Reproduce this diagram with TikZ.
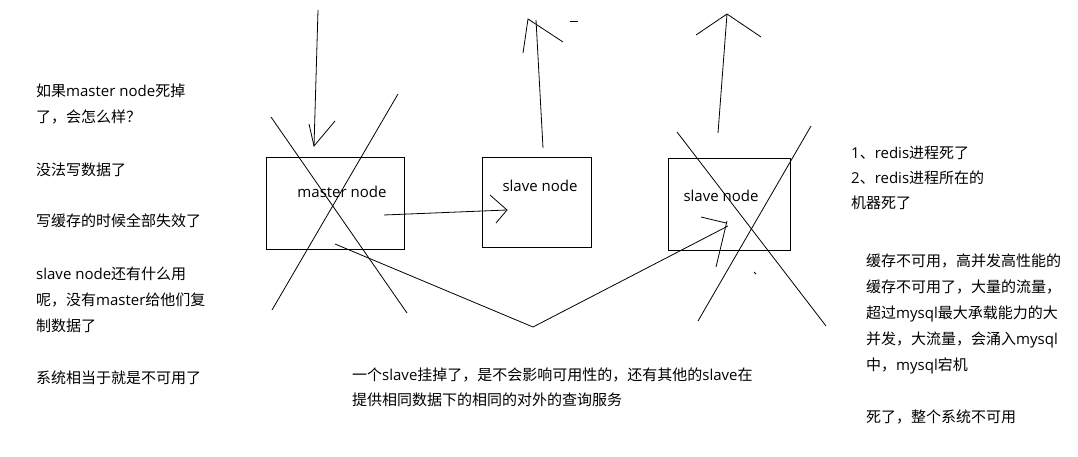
\documentclass[tikz,border=0pt]{standalone}
\usepackage{fontspec}
\setmainfont{Noto Sans CJK SC}
\newfontfamily\latinfont{Open Sans}
\newcommand{\lat}[1]{{\latinfont #1}}
\usetikzlibrary{positioning}

\tikzset{
  nodebox/.style={draw,line width=1pt,inner sep=0pt},
  pen/.style={line width=0.8pt},
  boxtext/.style={inner sep=0pt,font=\fontsize{15}{18}\latinfont},
  note/.style={anchor=base west,align=left,inner sep=0pt,font=\fontsize{15}{26}\selectfont},
}

\begin{document}
\begin{tikzpicture}[x=1pt,y=-1pt]
\useasboundingbox (0,0) rectangle (1078,457);

% the three redis nodes
\node[nodebox,minimum width=138pt,minimum height=91pt] (master) at (335,203.5) {};
\node[boxtext] (mastertext) at (342,192) {master node};
\node[nodebox,minimum width=109pt,minimum height=89pt] (slaveA) at (536.5,202.5) {};
\node[boxtext] (slaveAtext) at (540,186) {slave node};
\node[nodebox,minimum width=122pt,minimum height=91pt] (slaveB) at (729,204.5) {};
\node[boxtext] (slaveBtext) at (721,196) {slave node};

% write traffic into the master
\coordinate (writetop) at (318,10);
\coordinate (writetip) at (314,146);
\draw[pen] (writetop) -- (writetip);
\draw[pen] ([shift={(-5,-22)}]writetip) -- (writetip) -- ([shift={(21,-25)}]writetip);

% replication master -> slave
\coordinate (repstart) at (384,215);
\coordinate (reptip) at (507,210);
\draw[pen] (repstart) -- (reptip);
\draw[pen] ([shift={(-17,-15)}]reptip) -- (reptip) -- ([shift={(-11,13)}]reptip);

% reads out of the slaves
\coordinate (readAfoot) at (543,148);
\coordinate (readAtop) at (536,20);
\coordinate (readAtip) at (528,19);
\draw[pen] (readAfoot) -- (readAtop);
\draw[pen] ([shift={(-5,34)}]readAtip) -- (readAtip) -- ([shift={(35,23)}]readAtip);
\draw[pen] (570,21) -- (578,21);
\coordinate (readBfoot) at (718,133);
\coordinate (readBtip) at (727,14);
\draw[pen] (readBfoot) -- (readBtip);
\draw[pen] ([shift={(-31,21)}]readBtip) -- (readBtip) -- ([shift={(34,23)}]readBtip);

% failover path under the boxes
\coordinate (vstart) at (335,244);
\coordinate (vbottom) at (533,327);
\coordinate (vtip) at (728,226);
\draw[pen] (vstart) -- (vbottom) -- (vtip);
\draw[pen] (701,217) -- (726,223);
\draw[pen] (716,267) -- (727,221);
\draw[pen] (754,272) -- (756,274);

% crossed out nodes
\draw[pen] (271,117) -- (407,313);
\draw[pen] (398,94) -- (272,310);
\draw[pen] (677,132) -- (826,326);
\draw[pen] (811,126) -- (698,321);

% notes on the left (base west sits on the last line)
\node[note] (whatif) at (36,123) {如果\lat{master node}死掉\\了，会怎么样？};
\node[note] (nowrite) at (36,176) {没法写数据了};
\node[note] (cachefail) at (36,226) {写缓存的时候全部失效了};
\node[note] (slaveuse) at (36,331) {\lat{slave node}还有什么用\\呢，没有\lat{master}给他们复\\制数据了};
\node[note] (sysdown) at (36,383) {系统相当于就是不可用了};

% notes on the right
\node[note,font=\fontsize{15}{25}\selectfont] (causes) at (851,208) {\lat{1}、\lat{redis}进程死了\\\lat{2}、\lat{redis}进程所在的\\机器死了};
\node[note,font=\fontsize{15}{25.8}\selectfont] (avalanche) at (866,370) {缓存不可用，高并发高性能的\\缓存不可用了，大量的流量，\\超过\lat{mysql}最大承载能力的大\\并发，大流量，会涌入\lat{mysql}\\中，\lat{mysql}宕机};
\node[note] (alldead) at (866,422) {死了，整个系统不可用};

% note under the boxes
\node[note,font=\fontsize{15}{25}\selectfont] (oneslave) at (352,405) {一个\lat{slave}挂掉了，是不会影响可用性的，还有其他的\lat{slave}在\\提供相同数据下的相同的对外的查询服务};
\end{tikzpicture}
\end{document}
